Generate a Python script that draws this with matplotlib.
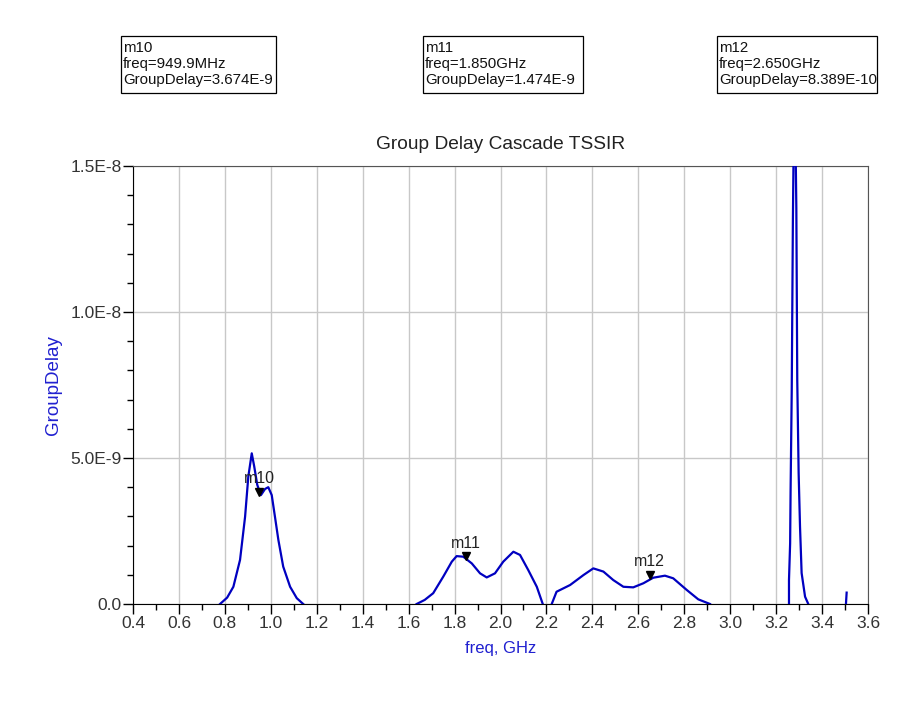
import matplotlib
matplotlib.use("Agg")
import matplotlib.pyplot as plt
import numpy as np
from matplotlib.ticker import MultipleLocator, FuncFormatter
from matplotlib.transforms import offset_copy
from matplotlib.patches import Rectangle

plt.rcParams['font.family'] = ['Liberation Sans', 'DejaVu Sans']

# frequency (GHz) and group delay (ns), per curve segment
f1 = [0.779, 0.810, 0.837, 0.866, 0.888, 0.902, 0.917, 0.928, 0.941, 0.957, 0.975, 0.989,
      1.004, 1.018, 1.033, 1.054, 1.084, 1.113, 1.141]
g1 = [0.0, 0.22, 0.59, 1.51, 2.99, 4.36, 5.16, 4.70, 4.08, 3.73, 3.94, 4.00,
      3.73, 2.99, 2.19, 1.28, 0.59, 0.20, 0.0]

f2 = [1.635, 1.670, 1.707, 1.751, 1.788, 1.809, 1.838, 1.875, 1.911, 1.940, 1.976, 2.012,
      2.056, 2.085, 2.121, 2.158, 2.184]
g2 = [0.0, 0.14, 0.37, 0.94, 1.45, 1.64, 1.62, 1.39, 1.05, 0.91, 1.05, 1.45,
      1.79, 1.68, 1.16, 0.59, 0.0]

f3 = [2.223, 2.244, 2.303, 2.361, 2.404, 2.448, 2.491, 2.535, 2.578, 2.622, 2.665,
      2.716, 2.752, 2.811, 2.861, 2.912]
g3 = [0.0, 0.42, 0.65, 0.99, 1.22, 1.11, 0.82, 0.59, 0.57, 0.71, 0.90,
      0.97, 0.88, 0.48, 0.16, 0.0]

f4 = [3.256, 3.256, 3.261, 3.263, 3.268, 3.273, 3.278, 3.285, 3.288, 3.292, 3.298,
      3.304, 3.311, 3.326, 3.340]
g4 = [0.0, 0.82, 2.08, 3.90, 7.33, 13.15, 17.0, 15.5, 13.56, 7.67, 4.49,
      2.65, 1.06, 0.25, 0.0]

f5 = [3.504, 3.507]
g5 = [0.0, 0.39]

segments = [(f1, g1), (f2, g2), (f3, g3), (f4, g4), (f5, g5)]

marker_names = ["m10", "m11", "m12"]
marker_freq = [0.9499, 1.850, 2.650]
marker_val = [3.674e-9, 1.474e-9, 8.389e-10]
marker_text = ["m10\nfreq=949.9MHz\nGroupDelay=3.674E-9",
               "m11\nfreq=1.850GHz\nGroupDelay=1.474E-9",
               "m12\nfreq=2.650GHz\nGroupDelay=8.389E-10"]
# box extents in pixels: left, top, right, bottom
marker_boxes = [(121, 36, 276, 93), (423, 36, 583, 93), (717, 36, 877, 93)]

W, H = 924, 704
fig = plt.figure(figsize=(W / 100, H / 100), dpi=100)
ax = fig.add_axes([133 / W, 1 - 604 / H, (868 - 133) / W, (604 - 166) / H])

for f, g in segments:
    ax.plot(f, np.array(g) * 1e-9, color='#0000C0', lw=1.6, clip_on=True, zorder=3)

tri_tr = offset_copy(ax.transData, fig=fig, x=0, y=3.5, units='points')
for name, fx, v in zip(marker_names, marker_freq, marker_val):
    ax.plot([fx], [v], marker='v', color='black', ms=5.5, zorder=4, transform=tri_tr)
    ax.annotate(name, (fx, v), xytext=(0, 7.5), textcoords='offset points',
                ha='center', va='bottom', fontsize=11.5, color='#222222', zorder=5)

ax.set_xlim(0.4, 3.6)
ax.set_ylim(0, 1.5e-8)
ax.xaxis.set_major_locator(MultipleLocator(0.2))
ax.xaxis.set_minor_locator(MultipleLocator(0.1))
ax.yaxis.set_major_locator(MultipleLocator(5e-9))
ax.yaxis.set_minor_locator(MultipleLocator(1e-9))
ax.xaxis.set_major_formatter(FuncFormatter(lambda v, p: f"{v:.1f}"))
ylabels = {0: "0.0", 1: "5.0E-9", 2: "1.0E-8", 3: "1.5E-8"}
ax.yaxis.set_major_formatter(FuncFormatter(lambda v, p: ylabels.get(int(round(v / 5e-9)), "")))
ax.grid(True, which='major', color='#C8C8C8', lw=1)
ax.tick_params(which='major', direction='out', length=7, width=1, labelsize=12.5,
               colors='black', labelcolor='#333333')
ax.tick_params(which='minor', direction='out', length=4, width=1, colors='black')
ax.tick_params(axis='x', pad=2)
ax.tick_params(axis='y', pad=1)
for s in ['top', 'right']:
    ax.spines[s].set_color('#555555')
for s in ['left', 'bottom']:
    ax.spines[s].set_color('black')

ax.set_title("Group Delay Cascade TSSIR", fontsize=13.8, color='#222222', pad=12)
ax.set_xlabel("freq, GHz", color='#2020D0', fontsize=12)
ax.xaxis.set_label_coords(0.5, -0.085)
ax.set_ylabel("GroupDelay", color='#2020D0', fontsize=13.5)
ax.yaxis.set_label_coords(-0.097, 0.5)

for txt, (l, t, r, b) in zip(marker_text, marker_boxes):
    fig.patches.append(Rectangle((l / W, 1 - b / H), (r - l) / W, (b - t) / H,
                                 transform=fig.transFigure, fc='white', ec='black',
                                 lw=0.9, figure=fig))
    fig.text((l + 2) / W, 1 - (t + 5) / H, txt, ha='left', va='top', fontsize=10.8,
             linespacing=1.2, color='#111111')

fig.savefig("out.png", dpi=100)
